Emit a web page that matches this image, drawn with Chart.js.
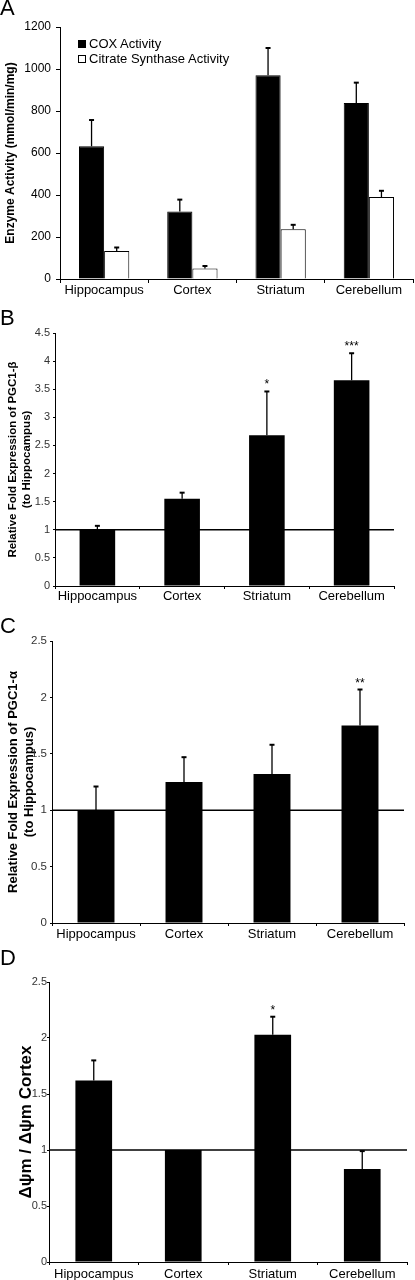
<!DOCTYPE html>
<html>
<head>
<meta charset="utf-8">
<script src="https://cdn.jsdelivr.net/npm/chart.js@4.4.1/dist/chart.umd.min.js"></script>
<style>
    body { margin: 0; background: #fff; width: 415px; height: 1280px; position: relative; overflow: hidden;
           font-family: "Liberation Sans", Arial, sans-serif; color: #000; }
    canvas { position: absolute; left: 0; }
    .panel-letter { position: absolute; left: 0; font-size: 22px; line-height: 22px; z-index: 2; }
    .legend { position: absolute; left: 78px; top: 36px; font-size: 13px; z-index: 2; }
    .legend div { display: flex; align-items: center; height: 15px; white-space: nowrap; }
    .legend .box { width: 8px; height: 8px; box-sizing: border-box; border: 1px solid #000; margin-right: 3px; }
</style>
</head>
<body>
<canvas id="chartA" width="415" height="300" style="top:0px"></canvas>
<canvas id="chartB" width="415" height="310" style="top:300px"></canvas>
<canvas id="chartC" width="415" height="335" style="top:610px"></canvas>
<canvas id="chartD" width="415" height="335" style="top:945px"></canvas>

<div class="panel-letter" style="top:-3px">A</div>
<div class="panel-letter" style="top:307px">B</div>
<div class="panel-letter" style="top:615px">C</div>
<div class="panel-letter" style="top:947px">D</div>

<div class="legend">
    <div><span class="box" style="background:#000"></span>COX Activity</div>
    <div><span class="box" style="background:#fff"></span>Citrate Synthase Activity</div>
</div>

<script>
const regions = ["Hippocampus", "Cortex", "Striatum", "Cerebellum"];

// Panel A - enzyme activity
const coxActivity = [632, 322, 970, 838];
const coxSem = [125, 56, 130, 97];
const csActivity = [133, 50, 237, 390];
const csSem = [17, 12, 21, 30];
const ticksA = [0, 200, 400, 600, 800, 1000, 1200];

// Panel B - PGC1-beta
const pgc1b = [1.0, 1.55, 2.68, 3.66];
const pgc1bSem = [0.07, 0.11, 0.78, 0.48];
const pgc1bStars = ["", "", "*", "***"];
const ticksB = [0, 0.5, 1, 1.5, 2, 2.5, 3, 3.5, 4, 4.5];

// Panel C - PGC1-alpha
const pgc1a = [1.0, 1.25, 1.32, 1.75];
const pgc1aSem = [0.21, 0.22, 0.26, 0.32];
const pgc1aStars = ["", "", "", "**"];
const ticksC = [0, 0.5, 1, 1.5, 2, 2.5];

// Panel D - membrane potential ratio
const dpsi = [1.62, 1.0, 2.03, 0.83];
const dpsiSem = [0.18, 0, 0.16, 0.16];
const dpsiStars = ["", "", "*", ""];
const ticksD = [0, 0.5, 1, 1.5, 2, 2.5];

Chart.defaults.font.family = '"Liberation Sans", Arial, sans-serif';
Chart.defaults.color = "#000";

// error bars (upper half only) and significance stars
const errorBarPlugin = {
    id: "errorBars",
    afterDatasetsDraw(chart) {
        const ctx = chart.ctx;
        const yScale = chart.scales.y;
        chart.data.datasets.forEach((ds, di) => {
            if (!ds.errors) return;
            const meta = chart.getDatasetMeta(di);
            meta.data.forEach((bar, i) => {
                const err = ds.errors[i];
                const top = yScale.getPixelForValue(ds.data[i] + err);
                ctx.save();
                ctx.strokeStyle = "#000";
                if (err > 0) {
                    ctx.lineWidth = 1.3;
                    ctx.beginPath();
                    ctx.moveTo(bar.x, bar.y);
                    ctx.lineTo(bar.x, top);
                    ctx.stroke();
                    ctx.lineWidth = 2;
                    ctx.beginPath();
                    ctx.moveTo(bar.x - 2.5, top);
                    ctx.lineTo(bar.x + 2.5, top);
                    ctx.stroke();
                }
                if (ds.stars && ds.stars[i]) {
                    ctx.fillStyle = "#000";
                    ctx.font = '12px "Liberation Sans", Arial, sans-serif';
                    ctx.textAlign = "center";
                    ctx.textBaseline = "alphabetic";
                    ctx.fillText(ds.stars[i], bar.x, top - 3);
                }
                ctx.restore();
            });
        });
    }
};

// horizontal reference line (fold = 1)
const baselinePlugin = {
    id: "baseline",
    beforeDatasetsDraw(chart, args, opts) {
        if (opts.value == null) return;
        const area = chart.chartArea;
        const y = chart.scales.y.getPixelForValue(opts.value);
        const ctx = chart.ctx;
        ctx.save();
        ctx.strokeStyle = "#000";
        ctx.lineWidth = 1.5;
        ctx.beginPath();
        ctx.moveTo(area.left, y);
        ctx.lineTo(area.right, y);
        ctx.stroke();
        ctx.restore();
    }
};

function buildPanel(id, cfg) {
    const canvas = document.getElementById(id);
    const h = canvas.height;
    return new Chart(canvas, {
        type: "bar",
        data: { labels: regions, datasets: cfg.datasets },
        options: {
            responsive: false,
            animation: false,
            layout: { padding: { top: cfg.area.top, right: 415 - cfg.area.right, left: 0, bottom: 0 } },
            plugins: {
                legend: { display: false },
                tooltip: { enabled: false },
                baseline: { value: cfg.baseline }
            },
            scales: {
                x: {
                    grid: { drawOnChartArea: false, color: "#000", tickLength: cfg.xTick, offset: true },
                    border: { color: "#000", width: 1 },
                    ticks: { color: "#000", font: { size: 13 }, padding: cfg.xPad, maxRotation: 0, autoSkip: false },
                    afterFit: s => { s.height = h - cfg.area.bottom; }
                },
                y: {
                    min: cfg.ticks[0],
                    max: cfg.ticks[cfg.ticks.length - 1],
                    afterBuildTicks: s => { s.ticks = cfg.ticks.map(v => ({ value: v })); },
                    grid: { drawOnChartArea: false, color: "#000", tickLength: cfg.yTick },
                    border: { color: "#000", width: 1 },
                    ticks: {
                        color: cfg.tickColor,
                        font: { size: cfg.tickSize },
                        padding: cfg.yPad,
                        callback: v => String(v)
                    },
                    title: {
                        display: true,
                        text: cfg.title,
                        color: "#000",
                        font: { size: cfg.titleSize, weight: "bold", lineHeight: cfg.titleLine || 1.2 },
                        padding: { top: cfg.titlePad, bottom: 0 }
                    },
                    afterFit: s => { s.width = cfg.area.left; }
                }
            }
        },
        plugins: [baselinePlugin, errorBarPlugin]
    });
}

buildPanel("chartA", {
    area: { left: 60, right: 413, top: 27, bottom: 279 },
    ticks: ticksA, tickSize: 12, tickColor: "#000", yTick: 4, yPad: 5, xTick: 4, xPad: 0,
    title: "Enzyme Activity (mmol/min/mg)", titleSize: 12, titlePad: 3,
    datasets: [
        { label: "COX Activity", data: coxActivity, errors: coxSem,
          backgroundColor: "#000", borderColor: "#000", borderWidth: 1,
          categoryPercentage: 0.57, barPercentage: 1 },
        { label: "Citrate Synthase Activity", data: csActivity, errors: csSem,
          backgroundColor: "#fff", borderColor: "#000", borderWidth: 1,
          categoryPercentage: 0.57, barPercentage: 1 }
    ]
});

buildPanel("chartB", {
    area: { left: 55, right: 394, top: 33, bottom: 286 },
    ticks: ticksB, tickSize: 11, tickColor: "#333", yTick: 2, yPad: 3, xTick: 3, xPad: 0,
    title: ["Relative Fold Expression of PGC1-\u03b2", "(to Hippocampus)"], titleSize: 11.5, titlePad: 6,
    baseline: 1,
    datasets: [
        { label: "PGC1-\u03b2", data: pgc1b, errors: pgc1bSem, stars: pgc1bStars,
          backgroundColor: "#000", borderColor: "#000", borderWidth: 0,
          categoryPercentage: 1, barPercentage: 0.42 }
    ]
});

buildPanel("chartC", {
    area: { left: 52, right: 404, top: 31, bottom: 313 },
    ticks: ticksC, tickSize: 11.5, tickColor: "#333", yTick: 2, yPad: 3, xTick: 3, xPad: 1,
    title: ["Relative Fold Expression of PGC1-\u03b1", "(to Hippocampus)"], titleSize: 13, titleLine: 1.3, titlePad: 4.5,
    baseline: 1,
    datasets: [
        { label: "PGC1-\u03b1", data: pgc1a, errors: pgc1aSem, stars: pgc1aStars,
          backgroundColor: "#000", borderColor: "#000", borderWidth: 0,
          categoryPercentage: 1, barPercentage: 0.42 }
    ]
});

buildPanel("chartD", {
    area: { left: 49, right: 407, top: 37, bottom: 317 },
    ticks: ticksD, tickSize: 11, tickColor: "#333", yTick: 2, yPad: 0, xTick: 3, xPad: 2,
    title: "\u0394\u03c8m / \u0394\u03c8m Cortex", titleSize: 17, titlePad: 16,
    baseline: 1,
    datasets: [
        { label: "\u0394\u03c8m", data: dpsi, errors: dpsiSem, stars: dpsiStars,
          backgroundColor: "#000", borderColor: "#000", borderWidth: 0,
          categoryPercentage: 1, barPercentage: 0.41 }
    ]
});
</script>
</body>
</html>
